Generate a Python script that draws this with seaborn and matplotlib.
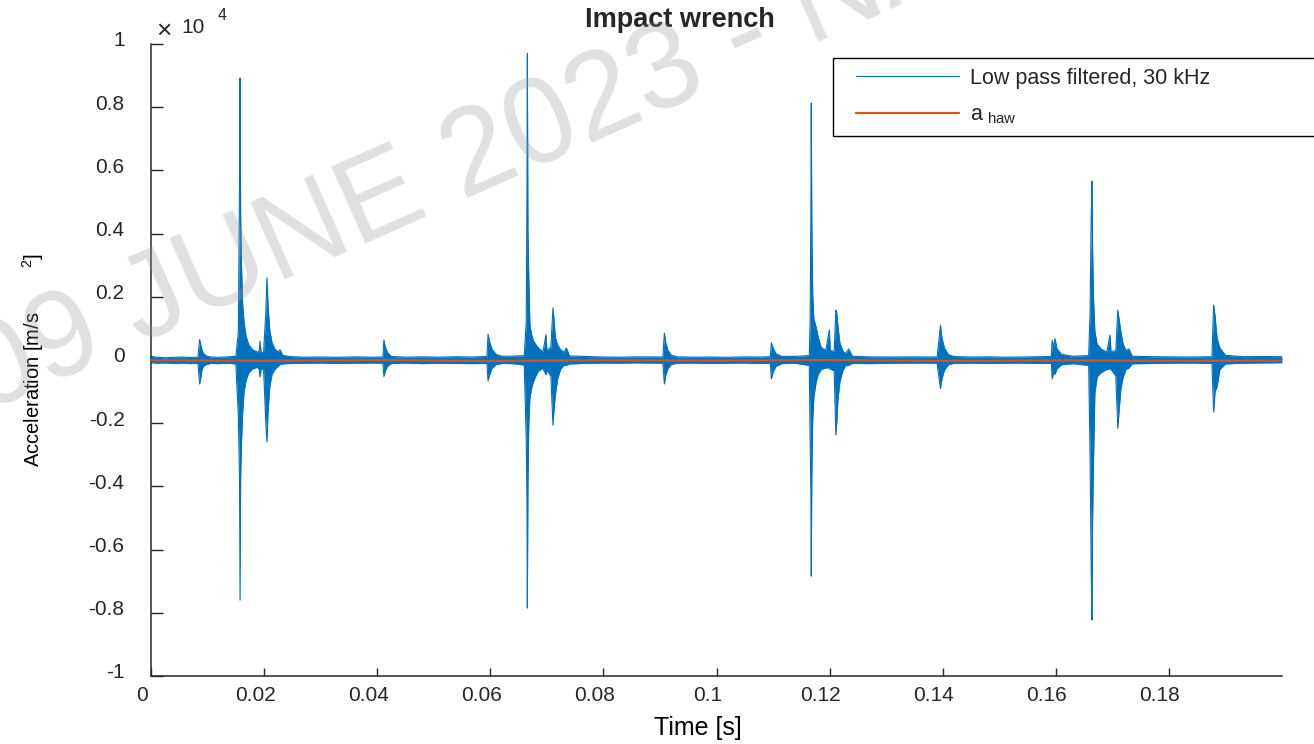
import numpy as np
import pandas as pd
import seaborn as sns
import matplotlib.pyplot as plt
from matplotlib.ticker import FuncFormatter
from matplotlib.transforms import ScaledTranslation
from matplotlib.lines import Line2D
from matplotlib.legend_handler import HandlerLine2D

# Envelope (upper / lower) of the 30 kHz low-pass filtered signal, m/s^2
sig_t = [0.0000, 0.0010, 0.0025, 0.0040, 0.0055, 0.0070, 0.0083,
         0.0086, 0.0088, 0.0090, 0.0093, 0.0098, 0.0105, 0.0120, 0.0135, 0.0150,
         0.01545, 0.01565, 0.01575, 0.01585, 0.01600, 0.01620, 0.01645, 0.01680, 0.01730, 0.01800, 0.01880,
         0.01915, 0.01928, 0.01945, 0.01990, 0.02030, 0.02050, 0.02070, 0.02100, 0.02140, 0.02190, 0.02250, 0.02280, 0.02330, 0.02450, 0.02700, 0.03000,
         0.03300, 0.03600, 0.03900, 0.04100,
         0.04118, 0.04140, 0.04180, 0.04250, 0.04500, 0.04800, 0.05100, 0.05400, 0.05700, 0.05940,
         0.05960, 0.05990, 0.06030, 0.06100, 0.06200, 0.06400, 0.06600,
         0.06635, 0.06648, 0.06655, 0.06665, 0.06680, 0.06700, 0.06730, 0.06760, 0.06800, 0.06850, 0.06930,
         0.06985, 0.07000, 0.07070, 0.07108, 0.07125, 0.07150, 0.07190, 0.07240, 0.07300, 0.07345, 0.07400, 0.07700, 0.08000, 0.08300, 0.08600,
         0.09050, 0.09078, 0.09100, 0.09140, 0.09200, 0.09300, 0.09600, 0.09900, 0.10200, 0.10500, 0.10800, 0.10950,
         0.10970, 0.11000, 0.11050, 0.11150, 0.11400, 0.11640,
         0.11655, 0.11668, 0.11675, 0.11685, 0.11700, 0.11720, 0.11760, 0.11800, 0.11850, 0.11930, 0.11995, 0.12010,
         0.12080, 0.12110, 0.12125, 0.12145, 0.12180, 0.12230, 0.12280, 0.12337, 0.12400, 0.12700, 0.13100, 0.13500, 0.13900,
         0.13960, 0.13985, 0.14030, 0.14100, 0.14200, 0.14500, 0.14800, 0.15100, 0.15400, 0.15700, 0.15920,
         0.15935, 0.15960, 0.15985, 0.16020, 0.16100, 0.16300, 0.16580,
         0.16605, 0.16625, 0.16638, 0.16650, 0.16665, 0.16690, 0.16730, 0.16800, 0.16900,
         0.16957, 0.16975, 0.17060, 0.17095, 0.17110, 0.17150, 0.17190, 0.17240, 0.17293, 0.17350, 0.17700, 0.18000, 0.18400, 0.18760,
         0.18790, 0.18815, 0.18850, 0.18900, 0.19000, 0.19300, 0.19600, 0.19999]
sig_hi = [115, 90, 70, 85, 95, 80, 90,
          650, 480, 330, 200, 130, 95, 85, 100, 115,
          900, 5600, 8920, 4500, 3000, 1800, 1200, 750, 480, 320, 250,
          280, 600, 250, 230, 1500, 2600, 1700, 950, 550, 350, 250, 330, 150, 110, 90, 95,
          85, 100, 90, 95,
          640, 420, 240, 110, 90, 100, 90, 105, 95, 115,
          820, 560, 340, 180, 120, 120, 140,
          1200, 5300, 9700, 4100, 2600, 1100, 800, 620, 500, 380, 260,
          800, 300, 400, 1650, 1300, 700, 480, 330, 250, 380, 130, 110, 95, 90, 100,
          95, 850, 560, 310, 150, 100, 90, 95, 85, 100, 95, 105,
          540, 380, 200, 115, 115, 140,
          1200, 4600, 8130, 4200, 2100, 1300, 1050, 700, 400, 300, 950, 300,
          280, 1580, 1500, 1100, 550, 300, 200, 350, 120, 100, 95, 100, 95,
          1100, 700, 380, 170, 110, 95, 100, 90, 95, 105, 110,
          630, 420, 680, 350, 180, 120, 140,
          1500, 4500, 5660, 3500, 2000, 900, 500, 350, 250,
          790, 260, 300, 1580, 1400, 900, 500, 300, 350, 120, 105, 100, 95, 105,
          1740, 1400, 700, 380, 150, 105, 110, 105]
sig_lo = [-80, -100, -90, -110, -95, -115, -100,
          -760, -560, -320, -200, -140, -110, -115, -100, -125,
          -1800, -3800, -7600, -3700, -2600, -1700, -1000, -650, -400, -280, -230,
          -300, -540, -300, -260, -2000, -2600, -1600, -850, -450, -300, -200, -140, -125, -110, -100, -95,
          -110, -100, -95, -100,
          -520, -360, -200, -110, -95, -115, -100, -110, -115, -110,
          -660, -460, -260, -150, -110, -115, -160,
          -2500, -4500, -7850, -4000, -2000, -1200, -900, -700, -520, -350, -260,
          -470, -330, -500, -2060, -1600, -1100, -600, -300, -170, -170, -125, -105, -95, -100, -90,
          -100, -760, -500, -270, -140, -100, -95, -110, -100, -95, -110, -100,
          -600, -380, -200, -115, -105, -170,
          -2500, -4200, -6840, -3600, -1900, -1200, -700, -450, -300, -250, -250, -280,
          -350, -2370, -2000, -1300, -700, -350, -180, -160, -110, -115, -100, -95, -100,
          -900, -600, -320, -150, -105, -95, -110, -100, -95, -110, -110,
          -600, -400, -450, -280, -150, -115, -170,
          -3000, -6600, -8230, -5000, -3300, -1050, -530, -400, -300,
          -280, -300, -500, -2160, -1800, -900, -550, -300, -250, -120, -110, -100, -95, -110,
          -1650, -1000, -850, -300, -125, -100, -95, -85]

# a_haw (hand-arm weighted), practically flat around zero
haw_t = [0.0, 0.02, 0.04, 0.06, 0.08, 0.10, 0.12, 0.14, 0.16, 0.18, 0.19999]
haw_a = [-10, -25, -5, -30, -10, -20, 0, -30, -15, -25, -20]

x_ticks = [0, 0.02, 0.04, 0.06, 0.08, 0.10, 0.12, 0.14, 0.16, 0.18]
y_ticks = [-10000, -8000, -6000, -4000, -2000, 0, 2000, 4000, 6000, 8000, 10000]

assert len(sig_t) == len(sig_hi) == len(sig_lo)

blue = "#0072BD"
orange = "#D95319"
dark = "#262626"

sig = pd.DataFrame({"t": sig_t, "hi": sig_hi, "lo": sig_lo})
haw = pd.DataFrame({"t": haw_t, "a": haw_a})

sns.set_theme(style="ticks")
plt.rcParams["font.family"] = ["Liberation Sans", "DejaVu Sans"]
plt.rcParams["mathtext.default"] = "regular"
plt.rcParams["axes.unicode_minus"] = False

fig = plt.figure(figsize=(13.14, 7.44), dpi=100)
ax = fig.add_axes([151 / 1314, 1 - 676 / 744, 1131 / 1314, 632 / 744])

ax.fill_between(sig["t"], sig["lo"], sig["hi"], color=blue, lw=0, zorder=2)
sns.lineplot(data=sig, x="t", y="hi", ax=ax, color=blue, lw=0.8, estimator=None, sort=False,
             label="Low pass filtered, 30 kHz", zorder=2)
sns.lineplot(data=sig, x="t", y="lo", ax=ax, color=blue, lw=0.8, estimator=None, sort=False,
             legend=False, zorder=2)
sns.lineplot(data=haw, x="t", y="a", ax=ax, color=orange, lw=1.6, estimator=None, sort=False,
             label=r"a$_{\ haw}$", zorder=3)

ax.set_xlim(0, 0.19999)
ax.set_ylim(-10000, 10000)
ax.set_xticks(x_ticks)
ax.set_yticks(y_ticks)
ax.xaxis.set_major_formatter(FuncFormatter(lambda v, p: "%g" % v))
ax.yaxis.set_major_formatter(FuncFormatter(lambda v, p: "%g" % (v / 1e4)))

sns.despine(ax=ax)
for s in ["left", "bottom"]:
    ax.spines[s].set_color(dark)
    ax.spines[s].set_linewidth(1.1)
ax.tick_params(axis="both", direction="in", colors=dark, labelsize=15, width=1.0)
ax.tick_params(axis="y", length=8.5, pad=19)
ax.tick_params(axis="x", length=6, pad=7)

# MATLAB-ish label offsets
for lab in ax.get_xticklabels():
    lab.set_transform(lab.get_transform() + ScaledTranslation(-9 / 100, 0, fig.dpi_scale_trans))
for lab in ax.get_yticklabels():
    lab.set_transform(lab.get_transform() + ScaledTranslation(0, 5 / 100, fig.dpi_scale_trans))

ax.set_xlabel("Time [s]", fontsize=18, color="black")
ax.xaxis.set_label_coords((698 - 151) / 1131, -0.064)
ax.set_ylabel("Acceleration [m/s        $^{2}$]", fontsize=14.5, color="black")
ax.yaxis.set_label_coords(-0.093, 0.5)

fig.text(680 / 1314, 1 - 20 / 744, "Impact wrench", ha="center", va="center",
         fontsize=19.5, fontweight="bold")
fig.text(156 / 1314, 1 - 38 / 744, "×", fontsize=19, color=dark, va="baseline")
fig.text(181 / 1314, 1 - 33 / 744, "10", fontsize=15, color=dark, va="baseline")
fig.text(218 / 1314, 1 - 20 / 744, "4", fontsize=11.5, color=dark, va="baseline")

leg = ax.legend(loc="upper left", bbox_to_anchor=(833 / 1314, 0, 0.5, 1 - 58 / 744),
                bbox_transform=fig.transFigure, mode="expand", borderaxespad=0,
                fontsize=15.5, handlelength=5.4, handletextpad=0.5,
                labelspacing=0.75, borderpad=0.45, fancybox=False, framealpha=1,
                handler_map={Line2D: HandlerLine2D(xpad=0.6)})
leg.get_frame().set_edgecolor("black")
leg.get_frame().set_linewidth(1.0)

# watermark
fig.text(462 / 1314, 1 - 166 / 744, "09 JUNE 2023 - NA", rotation=24, rotation_mode="anchor",
         ha="center", va="center", fontsize=88, color=(0.6, 0.6, 0.6), alpha=0.3)

fig.savefig("out.png", dpi=100)
